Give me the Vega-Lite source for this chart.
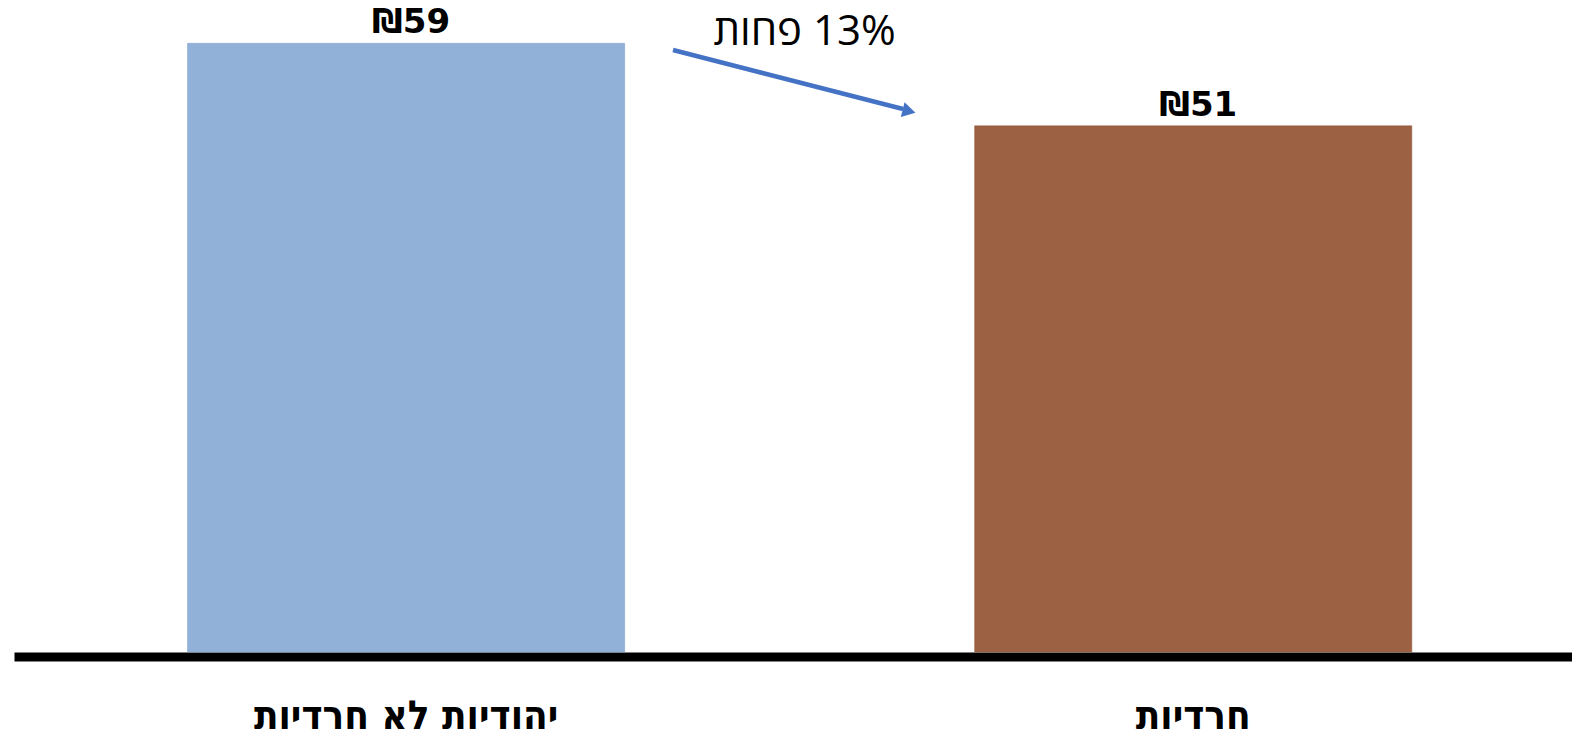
{
  "$schema": "https://vega.github.io/schema/vega-lite/v6.json",
  "width": 1558,
  "height": 652,
  "autosize": {"type": "none"},
  "padding": {"left": 14, "top": 0, "right": 0, "bottom": 78},
  "background": "white",
  "config": {"view": {"stroke": null}},
  "layer": [
    {
      "data": {"values": [
        {"group": "יהודיות לא חרדיות", "value": 59, "label": "₪59"},
        {"group": "חרדיות", "value": 51, "label": "₪51"}
      ]},
      "layer": [
        {
          "mark": {"type": "bar", "strokeWidth": 0.5},
          "encoding": {
            "x": {
              "field": "group", "type": "nominal",
              "sort": ["יהודיות לא חרדיות", "חרדיות"],
              "scale": {"paddingInner": 0.4446, "paddingOuter": 0.212, "align": 0.52},
              "axis": {
                "title": null, "labelAngle": 0, "ticks": false, "tickSize": 0,
                "domain": true, "domainColor": "black", "domainWidth": 9, "offset": 4.5,
                "labelPadding": 40, "labelFont": "DejaVu Sans Condensed", "labelFontWeight": "bold",
                "labelFontSize": 40, "labelColor": "black", "labelBaseline": "top", "labelLimit": 0
              }
            },
            "y": {"field": "value", "type": "quantitative", "scale": {"domain": [0, 63.2], "nice": false, "zero": true}, "axis": null},
            "color": {"field": "group", "type": "nominal", "scale": {"domain": ["יהודיות לא חרדיות", "חרדיות"], "range": ["#91B1D8", "#9B6142"]}, "legend": null},
            "stroke": {"field": "group", "type": "nominal", "scale": {"domain": ["יהודיות לא חרדיות", "חרדיות"], "range": ["#7F9FC8", "#8A5236"]}, "legend": null}
          }
        },
        {
          "mark": {"type": "text", "baseline": "alphabetic", "align": "center", "dy": -10, "dx": 5, "font": "DejaVu Sans", "fontWeight": "bold", "fontSize": 34, "color": "black"},
          "encoding": {
            "x": {"field": "group", "type": "nominal", "sort": ["יהודיות לא חרדיות", "חרדיות"]},
            "y": {"field": "value", "type": "quantitative"},
            "text": {"field": "label"}
          }
        }
      ]
    },
    {
      "data": {"values": [
        {"ax": 42.3, "ay": 58.35},
        {"ax": 57.06, "ay": 52.63}
      ]},
      "mark": {"type": "line", "color": "#4472C4", "strokeWidth": 4.5},
      "encoding": {
        "x": {"field": "ax", "type": "quantitative", "scale": {"domain": [0, 100], "nice": false, "zero": false}, "axis": null},
        "y": {"field": "ay", "type": "quantitative"}
      }
    },
    {
      "data": {"values": [{"ax": 57.45, "ay": 52.42}]},
      "mark": {"type": "point", "shape": "triangle-right", "filled": true, "color": "#4472C4", "size": 230, "angle": 14.4, "opacity": 1},
      "encoding": {
        "x": {"field": "ax", "type": "quantitative", "scale": {"domain": [0, 100], "nice": false, "zero": false}, "axis": null},
        "y": {"field": "ay", "type": "quantitative"}
      }
    },
    {
      "data": {"values": [{"ax": 50.74, "ay": 60.1, "note": "פחות‎ 13%"}]},
      "mark": {"type": "text", "align": "center", "baseline": "middle", "font": "Open Sans", "fontWeight": 400, "fontSize": 42, "color": "black"},
      "encoding": {
        "x": {"field": "ax", "type": "quantitative", "scale": {"domain": [0, 100], "nice": false, "zero": false}, "axis": null},
        "y": {"field": "ay", "type": "quantitative"},
        "text": {"field": "note"}
      }
    }
  ],
  "resolve": {"scale": {"x": "independent"}}
}
